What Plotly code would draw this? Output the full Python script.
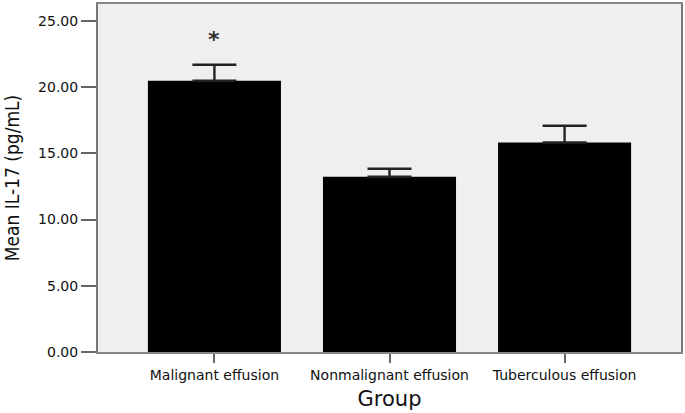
import plotly.graph_objects as go

groups = ["Malignant effusion", "Nonmalignant effusion", "Tuberculous effusion"]
mean_il17 = [20.48, 13.24, 15.82]
se_upper = [1.21, 0.60, 1.27]
sig_marks = ["*", "", ""]
sig_y = [23.6, None, None]
y_ticks = [0, 5, 10, 15, 20, 25]

fig = go.Figure()

fig.add_trace(go.Bar(
    x=[0, 1, 2],
    y=mean_il17,
    marker=dict(color="black", line=dict(width=0)),
    error_y=dict(type="data", array=se_upper, arrayminus=[0, 0, 0], symmetric=False,
                 color="#222", thickness=2.4, width=22),
    showlegend=False,
))

for i, (mark, yy) in enumerate(zip(sig_marks, sig_y)):
    if mark:
        fig.add_annotation(x=i, y=yy, text="<b>" + mark + "</b>", showarrow=False,
                           font=dict(family="DejaVu Sans", size=22, color="#333"))

fig.update_layout(
    width=685, height=413,
    margin=dict(l=98, r=2, t=3, b=61),
    paper_bgcolor="white",
    plot_bgcolor="#efefef",
    bargap=0.24,
    font=dict(family="DejaVu Sans", color="#111"),
    xaxis=dict(
        range=[-0.665, 2.665],
        tickvals=[0, 1, 2], ticktext=groups,
        tickfont=dict(size=14, color="#111"),
        ticks="outside", ticklen=9, tickwidth=2, tickcolor="#666",
        showline=True, linecolor="#888", linewidth=2, mirror=True,
        showgrid=False, zeroline=False,
        title=dict(text="Group", font=dict(size=21, color="#111"), standoff=10),
    ),
    yaxis=dict(
        range=[0, 26.28],
        tickvals=y_ticks, tickformat=".2f",
        tickfont=dict(size=14, color="#111"),
        ticks="outside", ticklen=15, tickwidth=2, tickcolor="#666",
        showline=True, linecolor="#777", linewidth=2, mirror=True,
        showgrid=False, zeroline=False,
        title=dict(text="Mean IL-17 (pg/mL)",
                   font=dict(family="DejaVu Sans Condensed, Liberation Sans Narrow, Roboto Condensed, sans-serif",
                             size=19, color="#111"),
                   standoff=13),
    ),
)

fig.write_html("out.html", config={"displayModeBar": False},
               post_script="document.body.style.margin='0';document.body.style.overflow='hidden';")
